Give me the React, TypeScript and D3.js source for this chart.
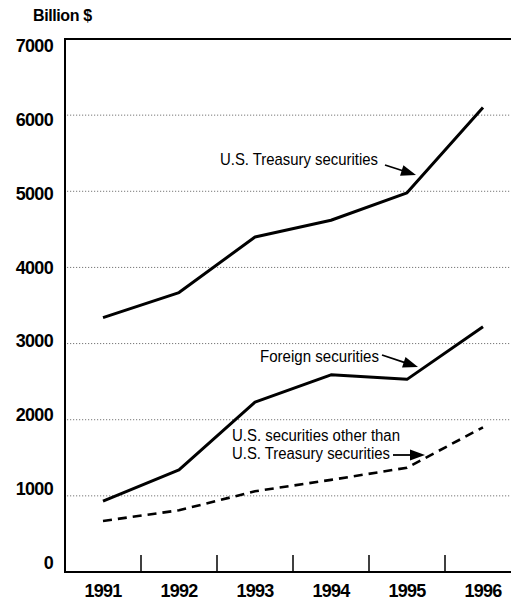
import * as d3 from 'd3';

const years = ['1991', '1992', '1993', '1994', '1995', '1996'];
const treasury = [3340, 3670, 4400, 4620, 4980, 6100];
const foreign = [930, 1340, 2230, 2590, 2530, 3220];
const otherUS = [670, 810, 1060, 1210, 1370, 1900];
const yTicks = [0, 1000, 2000, 3000, 4000, 5000, 6000, 7000];
const gridValues = [1000, 2000, 3000, 4000, 5000, 6000];

const W = 511;
const H = 603;
const left = 65;
const top = 39;
const bottom = 572;

const font = '"Liberation Sans", Arial, Helvetica, sans-serif';

export default function App() {
  const x = d3.scalePoint<string>().domain(years).range([103, 483]);
  const y = d3.scaleLinear().domain([0, 7000]).range([bottom, top]);
  // tick labels sit on a slightly tighter spacing than the gridlines
  const yLabel = d3.scaleLinear().domain([0, 7000]).range([569, 52]);
  const step = x.step();

  const line = d3
    .line<number>()
    .x((_, i) => x(years[i]) as number)
    .y((d) => y(d));

  const arrowHead = (x1: number, y1: number, x2: number, y2: number) => {
    const a = Math.atan2(y2 - y1, x2 - x1);
    const len = 15;
    const w = 5.5;
    const bx = x2 - len * Math.cos(a);
    const by = y2 - len * Math.sin(a);
    const px = -Math.sin(a) * w;
    const py = Math.cos(a) * w;
    return (
      <g>
        <line x1={x1} y1={y1} x2={bx + 2 * Math.cos(a)} y2={by + 2 * Math.sin(a)} stroke="#000" strokeWidth={1.8} />
        <path d={`M${x2},${y2}L${bx + px},${by + py}L${bx - px},${by - py}Z`} fill="#000" />
      </g>
    );
  };

  return (
    <div style={{ position: 'fixed', left: 0, top: 0 }}>
      <svg width={W} height={H} style={{ display: 'block', background: '#fff' }}>
        {/* gridlines */}
        {gridValues.map((v) => (
          <line
            key={v}
            x1={left + 2}
            x2={W}
            y1={y(v)}
            y2={y(v)}
            stroke="#555"
            strokeWidth={0.8}
            strokeDasharray="1.2,1.8"
          />
        ))}

        {/* frame */}
        <line x1={left} x2={W} y1={top} y2={top} stroke="#000" strokeWidth={2} />
        <line x1={left} x2={left} y1={top - 1} y2={bottom + 1} stroke="#000" strokeWidth={2} />
        <line x1={left} x2={W} y1={bottom} y2={bottom} stroke="#000" strokeWidth={2} />

        {/* x ticks between years */}
        {years.slice(0, -1).map((yr) => {
          const tx = (x(yr) as number) + step / 2;
          return <line key={yr} x1={tx} x2={tx} y1={bottom} y2={bottom - 17} stroke="#000" strokeWidth={1.5} />;
        })}

        {/* y labels */}
        {yTicks.map((v) => (
          <text
            key={v}
            x={53}
            y={yLabel(v)}
            textAnchor="end"
            fontFamily={font}
            fontWeight="bold"
            fontSize={18}
            letterSpacing={-0.7}
          >
            {v}
          </text>
        ))}

        {/* x labels */}
        {years.map((yr) => (
          <text
            key={yr}
            x={x(yr)}
            y={597}
            textAnchor="middle"
            fontFamily={font}
            fontWeight="bold"
            fontSize={18}
            letterSpacing={-0.7}
          >
            {yr}
          </text>
        ))}

        <text x={33} y={21} fontFamily={font} fontWeight="bold" fontSize={16} letterSpacing={-0.4}>
          Billion $
        </text>

        {/* series */}
        <path d={line(treasury) || ''} fill="none" stroke="#000" strokeWidth={3} strokeLinejoin="round" />
        <path d={line(foreign) || ''} fill="none" stroke="#000" strokeWidth={3} strokeLinejoin="round" />
        <path
          d={line(otherUS) || ''}
          fill="none"
          stroke="#000"
          strokeWidth={2.6}
          strokeDasharray="9,6"
        />

        {/* annotations */}
        <g fontFamily={font} fontSize={17}>
          <text x={220} y={165} textLength={158} lengthAdjust="spacingAndGlyphs">
            U.S. Treasury securities
          </text>
          <text x={260} y={362} textLength={119} lengthAdjust="spacingAndGlyphs">
            Foreign securities
          </text>
        </g>
        <g fontFamily={font} fontSize={16}>
          <text x={232} y={441} textLength={168} lengthAdjust="spacingAndGlyphs">
            U.S. securities other than
          </text>
          <text x={232} y={459} textLength={158} lengthAdjust="spacingAndGlyphs">
            U.S. Treasury securities
          </text>
        </g>
        {arrowHead(385, 165, 416, 175)}
        {arrowHead(382, 355, 418, 367)}
        {arrowHead(393, 455, 425, 455)}
      </svg>
    </div>
  );
}
